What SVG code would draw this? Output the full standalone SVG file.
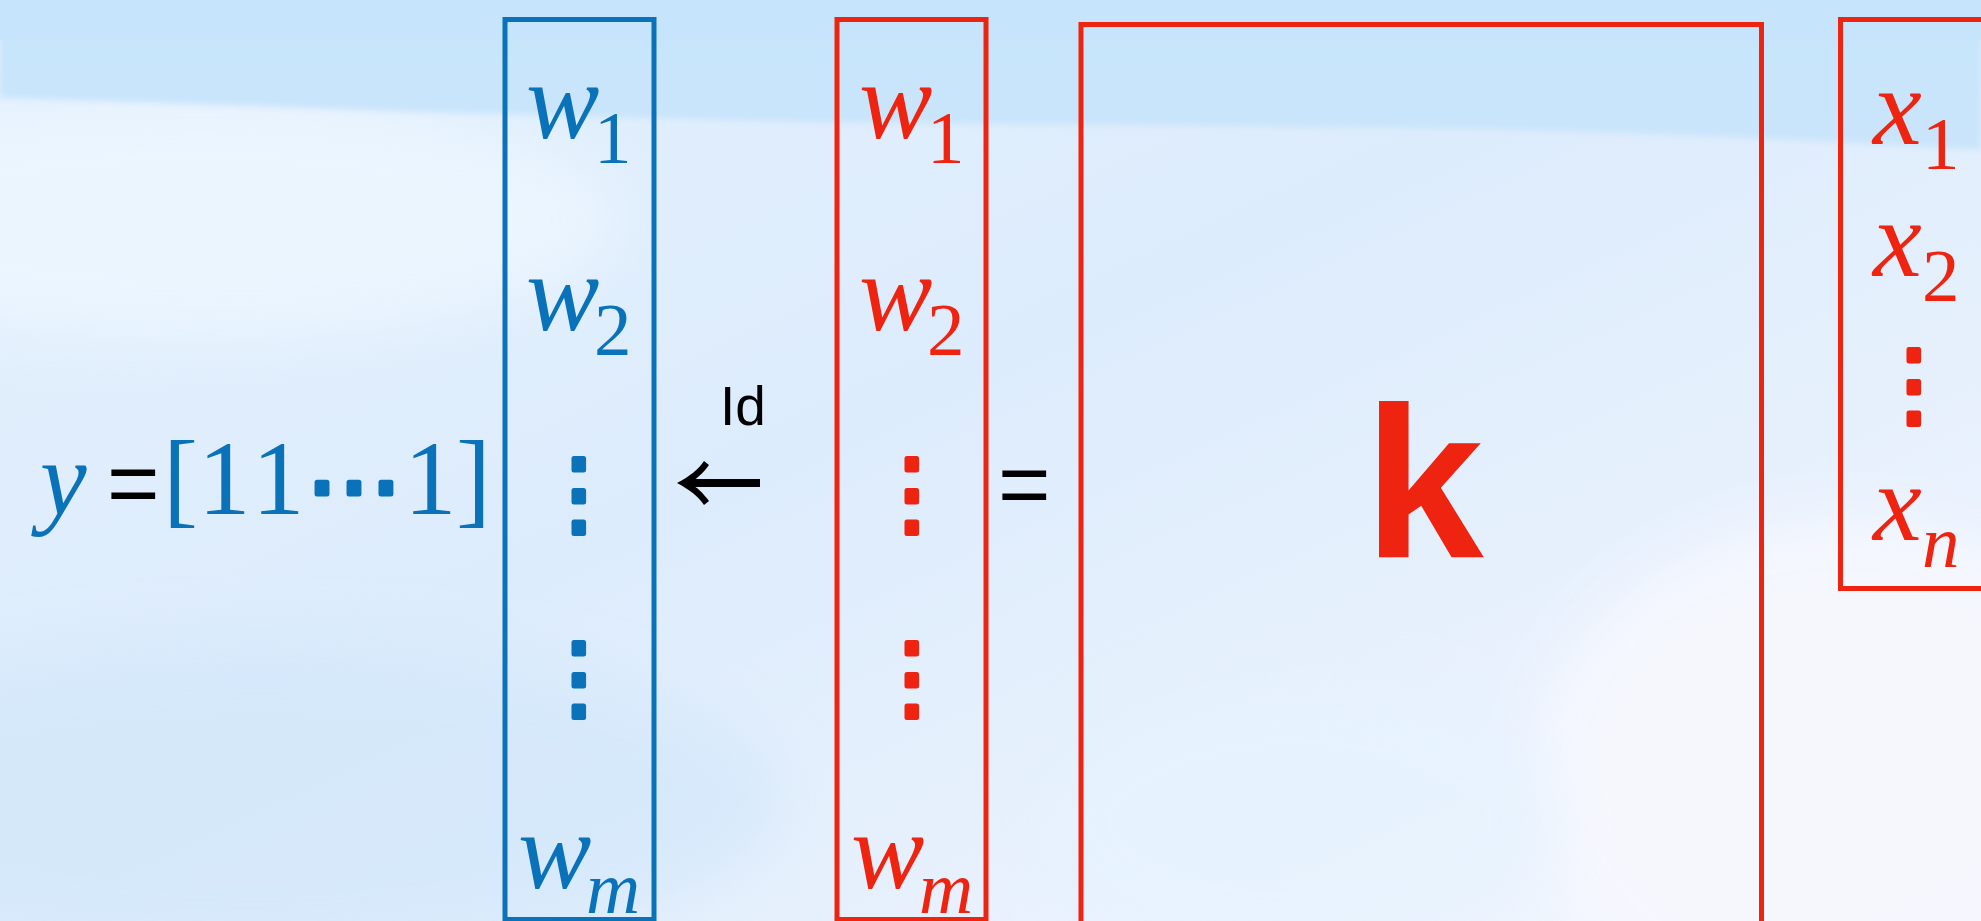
<svg xmlns="http://www.w3.org/2000/svg" width="1981" height="921" viewBox="0 0 1981 921">
<defs>
  <linearGradient id="bg" x1="0" y1="0" x2="1" y2="1">
    <stop offset="0" stop-color="#E3F0FD"/>
    <stop offset="0.45" stop-color="#DDECFC"/>
    <stop offset="0.8" stop-color="#EAF2FD"/>
    <stop offset="1" stop-color="#F5F7FE"/>
  </linearGradient>
  <linearGradient id="band" x1="0" y1="0" x2="0" y2="1">
    <stop offset="0" stop-color="#C6E4FB"/>
    <stop offset="1" stop-color="#CAE5FB"/>
  </linearGradient>
  <filter id="soft" x="-20%" y="-20%" width="140%" height="140%">
    <feGaussianBlur stdDeviation="30"/>
  </filter>
  <filter id="soft2" x="-5%" y="-50%" width="110%" height="200%">
    <feGaussianBlur stdDeviation="3"/>
  </filter>
</defs>
<style>
  .it{font-family:"Liberation Serif","Times New Roman",serif;font-style:italic}
  .rm{font-family:"Liberation Serif","Times New Roman",serif;font-style:normal}
  .dots{font-family:"DejaVu Sans",sans-serif;text-anchor:middle;stroke-width:5;stroke-linejoin:round}
  .bl{fill:#0A72B8}
  .rd{fill:#EE2310}
  .dbl{fill:#0A72B8;stroke:#0A72B8}
  .drd{fill:#EE2310;stroke:#EE2310}
  .bx{fill:none;stroke-width:5}
  .bbx{stroke:#0A72B8}
  .rbx{stroke:#EE2310}
  .base{font-size:110px}
  .sub{font-size:75px}
  .sans{font-family:"Liberation Sans",Arial,sans-serif}
</style>

<!-- background -->
<g id="background">
  <rect x="0" y="0" width="1981" height="921" fill="url(#bg)"/>
  <ellipse cx="200" cy="220" rx="420" ry="120" fill="#EEF7FF" opacity="0.8" filter="url(#soft)"/>
  <ellipse cx="260" cy="800" rx="520" ry="160" fill="#D2E7FA" opacity="0.7" filter="url(#soft)"/>
  <ellipse cx="1850" cy="780" rx="320" ry="260" fill="#F7F8FE" opacity="0.9" filter="url(#soft)"/>
  <ellipse cx="1300" cy="820" rx="260" ry="140" fill="#E6F3FE" opacity="0.7" filter="url(#soft)"/>
  <path d="M0,0 H1981 V150 C1800,140 1600,130 1400,128 C1200,126 1000,124 800,122 L420,112 L140,102 L0,98 Z" fill="url(#band)" filter="url(#soft2)"/>
  <rect x="0" y="0" width="1981" height="40" fill="#C6E4FB"/>
</g>

<!-- left equation -->
<g id="lhs">
  <text class="it bl" x="40" y="514" font-size="105">y</text>
  <text class="sans" x="107" y="514" font-size="90" fill="#000">=</text>
  <text class="rm bl" y="514" font-size="105"><tspan x="163">[</tspan><tspan x="198">1</tspan><tspan x="252">1</tspan><tspan x="404">1</tspan><tspan x="456">]</tspan></text>
  <text class="dots dbl" x="354" y="518" font-size="96">⋯</text>
</g>

<!-- blue vector -->
<g id="blue-vector">
  <rect class="bx bbx" x="505" y="19.5" width="149" height="900" stroke-width="4.5"/>
  <text class="it bl base" x="526" y="138">w<tspan class="rm sub" x="594" y="163">1</tspan></text>
  <text class="it bl base" x="526" y="330">w<tspan class="rm sub" x="594" y="355">2</tspan></text>
  <text class="dots dbl" x="579" y="525" font-size="93">⋮</text>
  <text class="dots dbl" x="579" y="709" font-size="93">⋮</text>
  <text class="it bl base" x="518" y="888">w<tspan class="sub" x="586" y="913">m</tspan></text>
</g>

<!-- red w vector -->
<g id="red-vector-w">
  <rect class="bx rbx" x="837" y="19.5" width="149" height="900"/>
  <text class="it rd base" x="859" y="138">w<tspan class="rm sub" x="927" y="163">1</tspan></text>
  <text class="it rd base" x="859" y="330">w<tspan class="rm sub" x="927" y="355">2</tspan></text>
  <text class="dots drd" x="912" y="525" font-size="93">⋮</text>
  <text class="dots drd" x="912" y="709" font-size="93">⋮</text>
  <text class="it rd base" x="851" y="888">w<tspan class="sub" x="919" y="913">m</tspan></text>
</g>

<!-- equals -->
<g id="equals">
  <text class="sans" x="998" y="515" font-size="90" fill="#000">=</text>
</g>

<!-- K matrix -->
<g id="k-matrix">
  <rect class="bx rbx" x="1081" y="24.5" width="680.5" height="920"/>
  <text class="sans" x="1364" y="557" font-weight="bold" font-size="215" fill="#EE2310">k</text>
</g>

<!-- x vector -->
<g id="x-vector">
  <rect class="bx rbx" x="1840.5" y="19.5" width="200" height="569"/>
  <text class="it rd base" x="1873" y="144">x<tspan class="rm sub" x="1922" y="169">1</tspan></text>
  <text class="it rd base" x="1873" y="276">x<tspan class="rm sub" x="1922" y="301">2</tspan></text>
  <text class="dots drd" x="1914" y="416" font-size="93">⋮</text>
  <text class="it rd base" x="1873" y="540">x<tspan class="sub" x="1922" y="567">n</tspan></text>
</g>

<!-- connector -->
<g id="connectors">
  <rect x="686" y="479" width="74" height="8" fill="#000"/>
  <path d="M677,483 C690,476 698,470 704,461 L709,465 C703,473 697,479 689,483 C697,487 703,493 709,501 L704,505 C698,496 690,490 677,483 Z" fill="#000"/>
  <text class="sans" x="720" y="425" font-size="55" fill="#000">Id</text>
</g>
</svg>
